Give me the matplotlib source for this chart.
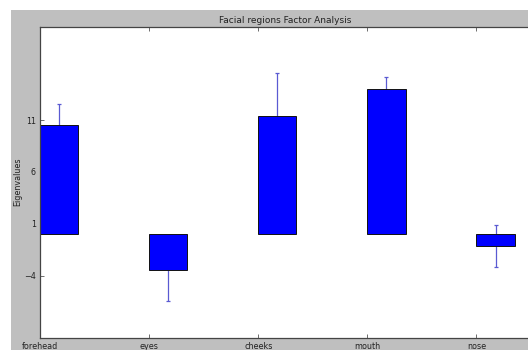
import matplotlib.pyplot as plt
from matplotlib.patches import Rectangle
import numpy as np

regions = ['forehead', 'eyes', 'cheeks', 'mouth', 'nose']
eigenvalues = [10.5, -3.5, 11.4, 14.0, -1.15]
errors = [2.0, 3.0, 4.1, 1.1, 2.0]
ytick_values = [-4, 1, 6, 11]

fig = plt.figure(figsize=(5.28, 3.5), dpi=100, facecolor='white')
# grey figure panel
fig.patches.append(Rectangle((11 / 528, 0), 1, (350 - 10) / 350,
                             transform=fig.transFigure, facecolor='#bfbfbf',
                             edgecolor='none', zorder=-10))

ax = fig.add_axes([40 / 528, 12.3 / 350, 491 / 528, 311 / 350])
ind = np.arange(len(regions))
width = 0.35
# error bars sit behind the bars
ax.errorbar(ind + width / 2, eigenvalues, yerr=errors, fmt='none',
            ecolor='#5a5ad2', elinewidth=0.9, capsize=1.5, capthick=0.9, zorder=1)
ax.bar(ind, eigenvalues, width, align='edge', color='#0000ff',
       edgecolor='#111111', linewidth=0.7, zorder=2)

ax.set_xlim(0, 4.5)
ax.set_ylim(-10, 20)
ax.set_xticks(ind)
ax.set_xticklabels(regions)
ax.set_yticks(ytick_values)
ax.tick_params(direction='in', length=3, width=0.5, labelsize=5.8, pad=3,
               top=True, right=False, colors='#333333', labelcolor='#222222')
for sp in ax.spines.values():
    sp.set_linewidth(0.9)
    sp.set_color('#444444')

ax.set_ylabel('Eigenvalues', fontsize=5.8, labelpad=1, color='#222222')
ax.set_title('Facial regions Factor Analysis', fontsize=6.5, pad=3, color='#222222')

fig.savefig('out.png', dpi=100, facecolor=fig.get_facecolor())
